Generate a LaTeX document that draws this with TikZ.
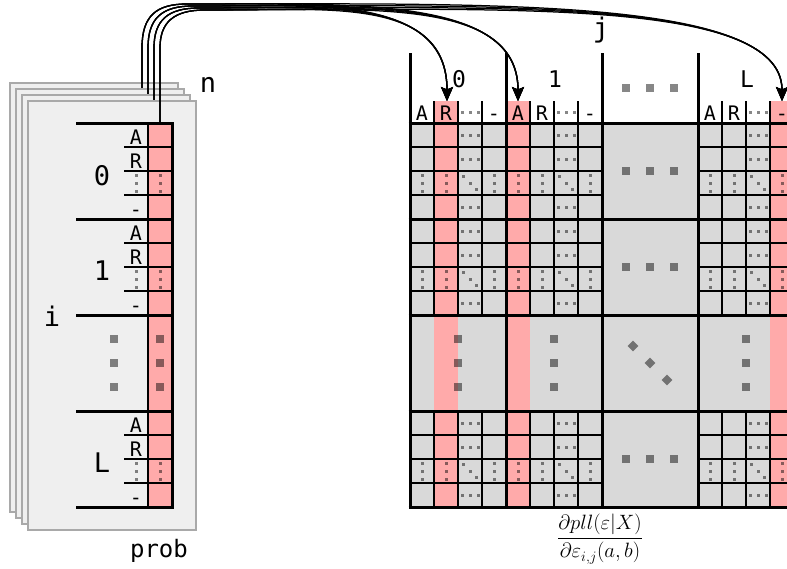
\documentclass[tikz,border=0pt]{standalone}
\usepackage{fontspec}
\setmonofont{DejaVu Sans Mono}
\usetikzlibrary{arrows.meta}
\definecolor{cellpink}{HTML}{FFAAAA}
\definecolor{cellgray}{HTML}{D9D9D9}
\definecolor{pagefill}{HTML}{EFEFEF}
\definecolor{pageedge}{HTML}{A9A9A9}

% small marks: dots, big squares, diamonds
\newcommand\mxdot[2]{\fill[dotink] ({#1-1.5},{#2-1.5}) rectangle ({#1+1.5},{#2+1.5});}
\newcommand\mxhdots[2]{\mxdot{#1-8}{#2}\mxdot{#1}{#2}\mxdot{#1+8}{#2}}
\newcommand\mxvdots[2]{\mxdot{#1}{#2-8}\mxdot{#1}{#2}\mxdot{#1}{#2+8}}
\newcommand\mxddots[2]{\mxdot{#1-6.5}{#2-6.5}\mxdot{#1}{#2}\mxdot{#1+6.5}{#2+6.5}}
\newcommand\mxbig[2]{\fill[dotink] ({#1-3.8},{#2-3.8}) rectangle ({#1+3.8},{#2+3.8});}
\newcommand\mxdiamond[2]{\fill[dotink] ({#1},{#2-5.4}) -- ({#1+5.4},{#2}) -- ({#1},{#2+5.4}) -- ({#1-5.4},{#2}) -- cycle;}

\begin{document}
\begin{tikzpicture}[x=1pt,y=-1pt,
  thickline/.style={line width=3pt},
  thinline/.style={line width=1.2pt},
  dotink/.style={fill=black,fill opacity=0.47},
  pagebox/.style={fill=pagefill,draw=pageedge,line width=1.4pt},
  flow/.style={line width=1.25pt,-{Stealth[length=14pt,width=12pt,inset=2.5pt]}},
  bigtxt/.style={font=\fontsize{27}{30}\selectfont\ttfamily,inner sep=0pt,anchor=base},
  headtxt/.style={font=\fontsize{23}{27}\selectfont\ttfamily,inner sep=0pt,anchor=base},
  smalltxt/.style={font=\fontsize{20}{24}\selectfont\ttfamily,inner sep=0pt,anchor=base}]
\useasboundingbox (0,0) rectangle (787,568);

% arrow targets in the header row
\coordinate (tz) at (447,101);
\coordinate (to) at (518,101);
\coordinate (tl) at (782,101);

% ---------- stacked pages, back to front, each with its arrows ----------
\foreach \k in {3,2,1,0} {
  \pgfmathsetmacro\ox{-6*\k}
  \pgfmathsetmacro\sx{160+\ox}
  \pgfmathsetmacro\yk{10-2*\k}
  \draw[pagebox] (28+\ox,101+\ox) rectangle (196+\ox,530+\ox);
  \ifnum\k=0
    % front page content
    \fill[cellpink] (148,123) rectangle (172,507);
    \foreach \by in {123,219,411} {
      \foreach \i in {1,2,3} {\draw[thinline] (124,\by+24*\i) -- (172,\by+24*\i);}
      \node[smalltxt] at (136,\by+21) {A};
      \node[smalltxt] at (136,\by+45) {R};
      \mxvdots{136}{\by+60}
      \mxvdots{160}{\by+60}
      \node[smalltxt] at (136,\by+93) {-};
    }
    \foreach \yy in {339,363,387} {\mxbig{114}{\yy}\mxbig{160}{\yy}}
    \draw[line width=2.4pt] (148,123) -- (148,507);
    \draw[thickline] (172,123) -- (172,507);
    \foreach \yy in {123,219,315,411,507} {\draw[thickline] (76,\yy) -- (173.5,\yy);}
    \node[bigtxt] (lz) at (102,185) {0};
    \node[bigtxt] (lo) at (102,280) {1};
    \node[bigtxt] (ll) at (102,472) {L};
  \fi
  \coordinate (src\k) at (\sx,123+\ox);
  \foreach \tg/\tx/\fr in {tz/447/0.5,to/518/0.5,tl/782/0.5} {
    \pgfmathsetmacro\dx{\fr*(\tx-\sx-45)}
    \draw[flow] (src\k) -- (\sx,48) .. controls (\sx,\yk+12) and (\sx+14,\yk) .. (\sx+45,\yk)
      .. controls +(\dx,0) and +(0,-105) .. (\tg);
  }
}

% ---------- matrix ----------
% full 4x4 blocks
\foreach \bx/\pc in {410/1,506/0,698/3} {
  \foreach \by in {123,219,411} {
    \fill[cellgray] (\bx,\by) rectangle ++(96,96);
    \fill[cellpink] (\bx+24*\pc,\by) rectangle ++(24,96);
    \foreach \i in {1,2,3} {
      \draw[thinline] (\bx+24*\i,\by) -- ++(0,96);
      \draw[thinline] (\bx,\by+24*\i) -- ++(96,0);
    }
    \mxhdots{\bx+60}{\by+12}
    \mxhdots{\bx+60}{\by+36}
    \mxhdots{\bx+60}{\by+84}
    \mxvdots{\bx+12}{\by+60}
    \mxvdots{\bx+36}{\by+60}
    \mxvdots{\bx+84}{\by+60}
    \mxddots{\bx+60}{\by+60}
  }
  % elided row of blocks
  \fill[cellgray] (\bx,315) rectangle ++(96,96);
  \fill[cellpink] (\bx+24*\pc,315) rectangle ++(24,96);
  \foreach \yy in {339,363,387} {\mxbig{\bx+48}{\yy}}
  % header cells
  \fill[cellpink] (\bx+24*\pc,101) rectangle ++(24,22);
  \foreach \i in {1,2,3} {\draw[thinline] (\bx+24*\i,101) -- (\bx+24*\i,123);}
  \node[smalltxt] at (\bx+12,120) {A};
  \node[smalltxt] at (\bx+36,120) {R};
  \mxhdots{\bx+60}{112}
  \node[smalltxt] at (\bx+84,120) {-};
}
% elided column of blocks
\foreach \by in {123,219,411} {
  \fill[cellgray] (602,\by) rectangle ++(96,96);
  \foreach \xx in {626,650,674} {\mxbig{\xx}{\by+48}}
}
\fill[cellgray] (602,315) rectangle ++(96,96);
\mxdiamond{633}{346}
\mxdiamond{650}{363}
\mxdiamond{667}{380}
\foreach \xx in {626,650,674} {\mxbig{\xx}{88}}

% block boundaries
\foreach \yy in {123,219,315,411,507} {\draw[thickline] (408.5,\yy) -- (800,\yy);}
\foreach \xx in {410,506,602,698} {\draw[thickline] (\xx,53) -- (\xx,507);}

% column block labels
\node[headtxt] (hz) at (459,87) {0};
\node[headtxt] (ho) at (555,87) {1};
\node[headtxt] (hl) at (747,87) {L};

% axis labels
\node[bigtxt] (jlab) at (601,37) {j};
\node[bigtxt] (nlab) at (208,92) {n};
\node[bigtxt] (ilab) at (52,326) {i};
\node[bigtxt,font=\fontsize{24}{28}\selectfont\ttfamily] (prob) at (159,557) {prob};

% gradient label
\node[inner sep=0pt,font=\fontsize{19.5}{24}\selectfont] (grad) at (600,539)
  {$\displaystyle\frac{\partial pll(\varepsilon|X)}{\partial\varepsilon_{i,j}(a,b)}$};
\end{tikzpicture}
\end{document}
